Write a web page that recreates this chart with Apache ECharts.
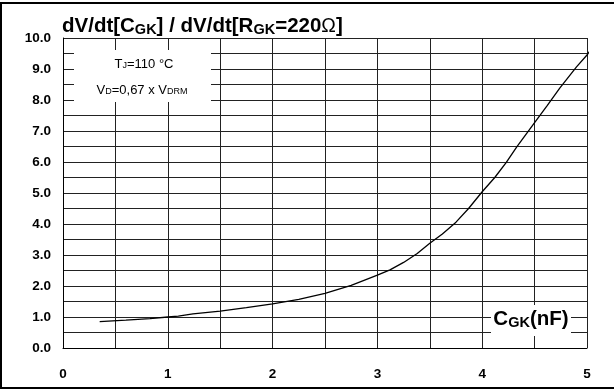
<!DOCTYPE html>
<html>
<head>
<meta charset="utf-8">
<script src="https://cdn.jsdelivr.net/npm/echarts@6/dist/echarts.min.js"></script>
<style>
  html, body { margin: 0; padding: 0; background: #fff; }
  #chart { width: 614px; height: 389px; }
</style>
</head>
<body>
<div id="chart"></div>
<script>
// Gate-cathode capacitance (nF)
const capacitance = [0.35, 0.6, 0.83, 1.0, 1.1, 1.24, 1.5, 1.75, 2.0, 2.25, 2.5, 2.75, 3.0, 3.12, 3.25, 3.38, 3.5, 3.62, 3.75, 3.87, 4.0, 4.12, 4.23, 4.33, 4.5, 4.62, 4.74, 4.9, 5.0, 5.03];
// dV/dt ratio relative to RGK = 220 ohm
const ratio = [0.85, 0.9, 0.95, 1.0, 1.03, 1.10, 1.19, 1.30, 1.42, 1.57, 1.76, 2.02, 2.35, 2.52, 2.76, 3.05, 3.38, 3.68, 4.06, 4.5, 5.04, 5.5, 5.99, 6.49, 7.27, 7.82, 8.38, 9.07, 9.45, 9.6];
// axis ticks
const xTicks = [0, 1, 2, 3, 4, 5];
const yTicks = [0, 1, 2, 3, 4, 5, 6, 7, 8, 9, 10];

const FONT = '"Liberation Sans", Arial, Helvetica, sans-serif';
const curve = capacitance.map((c, i) => [c, ratio[i]]);

const chart = echarts.init(document.getElementById('chart'));

const gridLine = { show: true, lineStyle: { color: '#222', width: 1 } };

chart.setOption({
  animation: false,
  backgroundColor: '#fff',
  grid: { left: 63, right: 27, top: 38, bottom: 41 },
  xAxis: {
    type: 'value',
    min: 0, max: 5, interval: 0.5,
    axisLine: { show: true, lineStyle: { color: '#000', width: 1 } },
    axisTick: { show: false },
    splitLine: gridLine,
    axisLabel: {
      margin: 19,
      color: '#000', fontFamily: FONT, fontWeight: 'bold', fontSize: 13.5,
      formatter: v => (xTicks.includes(v) ? String(v) : '')
    }
  },
  yAxis: {
    type: 'value',
    min: 0, max: 10, interval: 0.5,
    axisLine: { show: true, lineStyle: { color: '#000', width: 1 } },
    axisTick: { show: false },
    splitLine: gridLine,
    axisLabel: {
      margin: 12,
      color: '#000', fontFamily: FONT, fontWeight: 'bold', fontSize: 13.5,
      formatter: v => (yTicks.includes(v) ? v.toFixed(1) : '')
    }
  },
  series: [{
    type: 'line',
    data: curve,
    smooth: false,
    showSymbol: false,
    clip: false,
    lineStyle: { color: '#000', width: 1.3 },
    z: 5
  }],
  graphic: [
    // outer frame
    { type: 'rect', z: 20, silent: true,
      shape: { x: 1, y: 3, width: 700, height: 385 },
      style: { fill: 'none', stroke: '#000', lineWidth: 2 } },
    // chart title
    { type: 'text', z: 20, x: 62, y: 26.5,
      style: {
        text: '{m|dV/dt[C}{s|GK}{m|] / dV/dt[R}{s|GK}{m|=220}{o|Ω}{m|]}',
        textVerticalAlign: 'middle',
        rich: {
          m: { fontFamily: FONT, fontWeight: 'bold', fontSize: 20.5, fill: '#000' },
          s: { fontFamily: FONT, fontWeight: 'bold', fontSize: 14.5, fill: '#000', verticalAlign: 'bottom' },
          o: { fontFamily: FONT, fontWeight: 'normal', fontSize: 19.5, fill: '#000' }
        }
      } },
    // conditions box
    { type: 'rect', z: 10, silent: true,
      shape: { x: 74, y: 50, width: 137, height: 52 },
      style: { fill: '#fff' } },
    { type: 'text', z: 20, x: 144, y: 64,
      style: {
        text: '{m|T}{s|J}{m|=110 °C}',
        textAlign: 'center', textVerticalAlign: 'middle',
        rich: {
          m: { fontFamily: FONT, fontSize: 13, fill: '#000' },
          s: { fontFamily: FONT, fontSize: 9, fill: '#000', verticalAlign: 'bottom' }
        }
      } },
    { type: 'text', z: 20, x: 142, y: 90,
      style: {
        text: '{m|V}{s|D}{m|=0,67 x V}{s|DRM}',
        textAlign: 'center', textVerticalAlign: 'middle',
        rich: {
          m: { fontFamily: FONT, fontSize: 13, fill: '#000' },
          s: { fontFamily: FONT, fontSize: 9, fill: '#000', verticalAlign: 'bottom' }
        }
      } },
    // x-axis name box
    { type: 'rect', z: 10, silent: true,
      shape: { x: 491, y: 305, width: 80, height: 31 },
      style: { fill: '#fff' } },
    { type: 'text', z: 20, x: 531, y: 319.5,
      style: {
        text: '{m|C}{s|GK}{m|(nF)}',
        textAlign: 'center', textVerticalAlign: 'middle',
        rich: {
          m: { fontFamily: FONT, fontWeight: 'bold', fontSize: 20.5, fill: '#000' },
          s: { fontFamily: FONT, fontWeight: 'bold', fontSize: 14.5, fill: '#000', verticalAlign: 'bottom' }
        }
      } }
  ]
});
</script>
</body>
</html>
